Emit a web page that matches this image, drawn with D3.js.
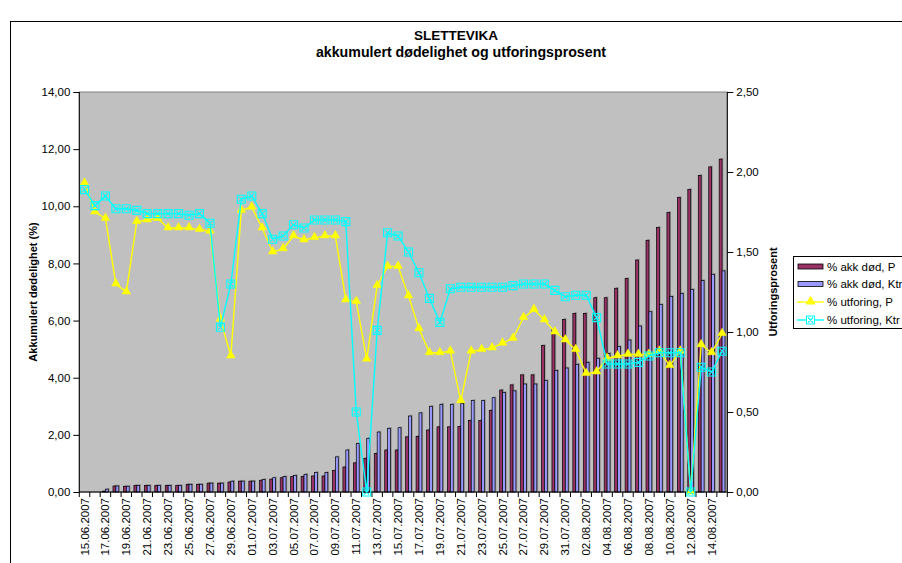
<!DOCTYPE html>
<html><head><meta charset="utf-8">
<script src="https://cdn.jsdelivr.net/npm/d3@7"></script>
<style>
body{margin:0;background:#fff;overflow:hidden}
text{font-family:"Liberation Sans",Arial,sans-serif}
</style>
</head><body><svg id="c" width="902" height="563"></svg>
<script>
const dates = ["15.06.2007","16.06.2007","17.06.2007","18.06.2007","19.06.2007","20.06.2007","21.06.2007","22.06.2007","23.06.2007","24.06.2007","25.06.2007","26.06.2007","27.06.2007","28.06.2007","29.06.2007","30.06.2007",
"01.07.2007","02.07.2007","03.07.2007","04.07.2007","05.07.2007","06.07.2007","07.07.2007","08.07.2007","09.07.2007","10.07.2007","11.07.2007","12.07.2007","13.07.2007","14.07.2007","15.07.2007","16.07.2007","17.07.2007","18.07.2007","19.07.2007","20.07.2007","21.07.2007","22.07.2007","23.07.2007","24.07.2007","25.07.2007","26.07.2007","27.07.2007","28.07.2007","29.07.2007","30.07.2007","31.07.2007",
"01.08.2007","02.08.2007","03.08.2007","04.08.2007","05.08.2007","06.08.2007","07.08.2007","08.08.2007","09.08.2007","10.08.2007","11.08.2007","12.08.2007","13.08.2007","14.08.2007","15.08.2007"];

const akkP = [0,0,0.03,0.21,0.2,0.23,0.23,0.23,0.23,0.23,0.27,0.27,0.31,0.31,0.35,0.38,
0.38,0.41,0.45,0.50,0.54,0.54,0.56,0.56,0.75,0.875,1.02,1.18,1.35,1.47,1.47,1.93,1.95,2.17,2.28,2.28,2.29,2.50,2.50,2.86,3.57,3.75,4.10,4.10,5.13,5.69,6.04,
6.25,6.25,6.80,6.80,7.13,7.47,8.12,8.81,9.26,9.78,10.31,10.59,11.08,11.38,11.65];

const akkK = [0,0,0.1,0.21,0.2,0.23,0.23,0.23,0.23,0.23,0.27,0.27,0.31,0.31,0.38,0.38,
0.38,0.44,0.50,0.54,0.58,0.62,0.68,0.68,1.23,1.47,1.70,1.88,2.10,2.23,2.25,2.66,2.77,3.00,3.07,3.07,3.10,3.20,3.20,3.30,3.48,3.54,3.78,3.78,3.90,4.25,4.34,
4.47,4.54,4.68,4.85,5.09,5.32,5.81,6.31,6.56,6.84,6.95,7.09,7.40,7.62,7.74];

const utfP = [1.93,1.75,1.71,1.30,1.25,1.69,1.70,1.71,1.65,1.65,1.65,1.64,1.63,1.08,0.85,1.76,
1.78,1.65,1.50,1.52,1.60,1.575,1.59,1.60,1.60,1.20,1.19,0.83,1.29,1.41,1.41,1.225,1.02,0.87,0.87,0.88,0.57,0.88,0.89,0.90,0.93,0.96,1.09,1.14,1.075,1.00,0.95,
0.89,0.74,0.75,0.835,0.85,0.86,0.86,0.86,0.88,0.79,0.88,0,0.92,0.87,0.99];

const utfK = [1.89,1.79,1.85,1.77,1.77,1.76,1.74,1.74,1.74,1.74,1.73,1.74,1.68,1.03,1.30,1.83,
1.85,1.74,1.58,1.60,1.67,1.65,1.70,1.70,1.70,1.69,0.50,0,1.01,1.62,1.60,1.50,1.37,1.21,1.06,1.27,1.28,1.28,1.28,1.28,1.28,1.29,1.30,1.30,1.30,1.26,1.22,
1.23,1.23,1.09,0.80,0.80,0.80,0.81,0.85,0.87,0.87,0.87,0,0.78,0.75,0.88];

const leftTicks = [0,2,4,6,8,10,12,14];
const rightTicks = [0,0.5,1,1.5,2,2.5];
const seriesNames = ["% akk død, P","% akk død, Ktr","% utforing, P","% utforing, Ktr"];
const title = "SLETTEVIKA";
const subtitle = "akkumulert dødelighet og utforingsprosent";
const yLeftTitle = "Akkumulert dødelighet (%)";
const yRightTitle = "Utforingsprosent";

const colP = "#993366", colK = "#9999FF", colLineP = "#FFFF00", colLineK = "#00FFFF";

const svg = d3.select("#c");
const M = {l:79.3, r:727.3, t:92, b:492};

const loc = d3.formatLocale({decimal:",", thousands:" ", grouping:[3], currency:["",""]});
const fmt = loc.format(".2f");

// page frame
svg.append("rect").attr("x",10.5).attr("y",21.5).attr("width",1000).attr("height",1000)
  .attr("fill","#fff").attr("stroke","#000").attr("stroke-width",1);

const x = d3.scaleBand().domain(d3.range(dates.length)).range([M.l, M.r]).paddingInner(0).paddingOuter(0);
const yL = d3.scaleLinear().domain([0,14]).range([M.b, M.t]);
const yR = d3.scaleLinear().domain([0,2.5]).range([M.b, M.t]);
const cx = i => x(i) + x.bandwidth()/2;

// plot area
svg.append("rect").attr("x",M.l).attr("y",M.t).attr("width",M.r-M.l).attr("height",M.b-M.t)
  .attr("fill","#C0C0C0").attr("stroke","#808080").attr("stroke-width",1);

// titles
svg.append("text").attr("x",456).attr("y",40).attr("text-anchor","middle")
  .attr("font-size",13.5).attr("font-weight","bold").text(title);
svg.append("text").attr("x",461).attr("y",56.5).attr("text-anchor","middle")
  .attr("font-size",14.2).attr("font-weight","bold").text(subtitle);

// bars
const bw = 2.9;
const barG = svg.append("g");
const bars = [{data:akkP, col:colP, off:-bw},{data:akkK, col:colK, off:0}];
bars.forEach(s => {
  barG.selectAll(null).data(s.data).enter().append("rect")
    .attr("x",(d,i)=>cx(i)+s.off+1.2).attr("y",d=>yL(d)-1.2)
    .attr("width",bw).attr("height",d=>Math.max(0,M.b-yL(d)))
    .attr("fill","#6a6a6a").attr("opacity",d=>d>0?0.55:0);
});
bars.forEach(s => {
  barG.selectAll(null).data(s.data).enter().append("rect")
    .attr("x",(d,i)=>cx(i)+s.off).attr("y",d=>yL(d))
    .attr("width",bw).attr("height",d=>Math.max(0,M.b-yL(d)))
    .attr("fill",s.col).attr("stroke","#000").attr("stroke-width",0.7)
    .attr("opacity",d=>d>0?1:0);
});

// axes lines
svg.append("line").attr("x1",M.l).attr("x2",M.l).attr("y1",M.t).attr("y2",M.b).attr("stroke","#000");
svg.append("line").attr("x1",M.r).attr("x2",M.r).attr("y1",M.t).attr("y2",M.b).attr("stroke","#000");

// left axis
const axL = d3.axisLeft(yL).tickValues(leftTicks).tickFormat(fmt).tickSize(6).tickPadding(3);
const gL = svg.append("g").attr("transform",`translate(${M.l},0)`).call(axL);
gL.select(".domain").remove();
gL.selectAll("text").attr("font-size",11.5).attr("font-family","Liberation Sans, Arial, sans-serif").attr("fill","#000");
gL.selectAll("line").attr("stroke","#000");

// right axis
const axR = d3.axisRight(yR).tickValues(rightTicks).tickFormat(fmt).tickSize(6).tickPadding(3);
const gR = svg.append("g").attr("transform",`translate(${M.r},0)`).call(axR);
gR.select(".domain").remove();
gR.selectAll("text").attr("font-size",11.5).attr("font-family","Liberation Sans, Arial, sans-serif").attr("fill","#000");
gR.selectAll("line").attr("stroke","#000");

// x axis
svg.append("line").attr("x1",M.l).attr("x2",M.r).attr("y1",M.b).attr("y2",M.b).attr("stroke","#000");
const bounds = d3.range(dates.length+1).map(i => M.l + i*x.bandwidth());
svg.selectAll(null).data(bounds).enter().append("line")
  .attr("x1",d=>d).attr("x2",d=>d).attr("y1",M.b).attr("y2",M.b+5).attr("stroke","#000");
const lblIdx = d3.range(0, dates.length, 2);
svg.selectAll(null).data(lblIdx).enter().append("text")
  .attr("transform",i=>`translate(${cx(i)+4},${M.b+6}) rotate(-90)`)
  .attr("text-anchor","end").attr("font-size",11.5).text(i=>dates[i]);

// axis titles
svg.append("text").attr("transform",`translate(37,${(M.t+M.b)/2}) rotate(-90)`)
  .attr("text-anchor","middle").attr("font-size",11).attr("font-weight","bold").text(yLeftTitle);
svg.append("text").attr("transform",`translate(777,${(M.t+M.b)/2}) rotate(-90)`)
  .attr("text-anchor","middle").attr("font-size",11).attr("font-weight","bold").text(yRightTitle);

// lines
const tri = d3.symbol().type(d3.symbolTriangle).size(32);
function boxX(s){ return `M${-s},${-s}H${s}V${s}H${-s}Z M${-s+1.5},${-s+1.5}L${s-1.5},${s-1.5} M${s-1.5},${-s+1.5}L${-s+1.5},${s-1.5}`; }
const lineGen = d3.line().x((d,i)=>cx(i)).y(d=>yR(d));

svg.append("path").datum(utfP).attr("d",lineGen).attr("fill","none").attr("stroke",colLineP).attr("stroke-width",1.4);
svg.selectAll(null).data(utfP).enter().append("path")
  .attr("transform",(d,i)=>`translate(${cx(i)},${yR(d)-0.5})`).attr("d",tri)
  .attr("fill",colLineP).attr("stroke",colLineP).attr("stroke-width",0.5);

svg.append("path").datum(utfK).attr("d",lineGen).attr("fill","none").attr("stroke",colLineK).attr("stroke-width",1.4);
svg.selectAll(null).data(utfK).enter().append("path")
  .attr("transform",(d,i)=>`translate(${cx(i)},${yR(d)})`).attr("d",boxX(4))
  .attr("fill","none").attr("stroke",colLineK).attr("stroke-width",1.1);

// legend
const lg = svg.append("g");
lg.append("rect").attr("x",793.5).attr("y",256.5).attr("width",200).attr("height",72)
  .attr("fill","#fff").attr("stroke","#000").attr("stroke-width",1);
const rowsY = [266.5, 284, 302, 320];
lg.append("rect").attr("x",798).attr("y",rowsY[0]-2.5).attr("width",25).attr("height",5).attr("fill",colP).attr("stroke","#000").attr("stroke-width",0.8);
lg.append("rect").attr("x",798).attr("y",rowsY[1]-2.5).attr("width",25).attr("height",5).attr("fill",colK).attr("stroke","#000").attr("stroke-width",0.8);
lg.append("line").attr("x1",797).attr("x2",824).attr("y1",rowsY[2]).attr("y2",rowsY[2]).attr("stroke",colLineP).attr("stroke-width",1.4);
lg.append("path").attr("transform",`translate(810.5,${rowsY[2]-0.5})`).attr("d",tri).attr("fill",colLineP).attr("stroke",colLineP);
lg.append("line").attr("x1",797).attr("x2",824).attr("y1",rowsY[3]).attr("y2",rowsY[3]).attr("stroke",colLineK).attr("stroke-width",1.4);
lg.append("path").attr("transform",`translate(810.5,${rowsY[3]})`).attr("d",boxX(4)).attr("fill","#fff").attr("stroke",colLineK).attr("stroke-width",1.1);
seriesNames.forEach((n,k)=>{
  lg.append("text").attr("x",827).attr("y",rowsY[k]+4).attr("font-size",11.5).text(n);
});
</script>
</body></html>
